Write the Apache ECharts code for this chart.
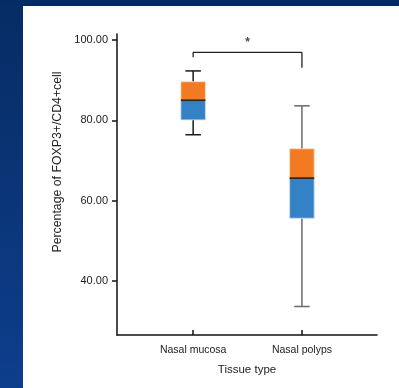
<!DOCTYPE html>
<html>
<head>
<meta charset="utf-8">
<script src="https://cdn.jsdelivr.net/npm/echarts@6/dist/echarts.min.js"></script>
<style>
html,body{margin:0;padding:0;width:399px;height:388px;overflow:hidden;}
body{background:linear-gradient(180deg,#062c64 0%,#0a3475 45%,#0d3e8d 100%);}
#top{position:absolute;left:0;top:0;width:399px;height:6px;background:#032c65;}
#panel{position:absolute;left:23px;top:6px;width:376px;height:382px;background:#fff;}
#chart{position:absolute;left:0;top:0;width:399px;height:388px;}
</style>
</head>
<body>
<div id="top"></div>
<div id="panel"></div>
<div id="chart"></div>
<script>
// Data
const categories = ['Nasal mucosa', 'Nasal polyps'];
const whiskerLow = [76.4, 33.6];
const q1 = [80.1, 55.6];
const median = [85.0, 65.6];
const q3 = [89.6, 72.9];
const whiskerHigh = [92.3, 83.6];
const yTicks = [40, 60, 80, 100];
// significance bracket: [category index, value]
const bracket = [[1, 95.7], [1, 96.9], [2, 96.9], [2, 93.1]];
const sigLabel = '*';

const whiskerColors = ['#1a1a1a', '#6a6a6a'];
const FONT = "'Liberation Sans', Arial, sans-serif";

const boxData = categories.map((c, i) => [i + 1, whiskerLow[i], q1[i], median[i], q3[i], whiskerHigh[i]]);

const chart = echarts.init(document.getElementById('chart'), null, {renderer: 'canvas'});
chart.setOption({
  backgroundColor: 'transparent',
  animation: false,
  grid: {left: 117, right: 22, top: 34, bottom: 53, containLabel: false},
  xAxis: {
    type: 'value', min: 0.3, max: 2.69,
    name: 'Tissue type', nameLocation: 'middle', nameGap: 29,
    nameTextStyle: {fontFamily: FONT, fontSize: 11.5, color: '#222'},
    axisLine: {show: true, lineStyle: {color: '#111', width: 1.5}},
    axisTick: {show: true, inside: true, length: 5, customValues: [1, 2], lineStyle: {color: '#111', width: 1.5}},
    axisLabel: {customValues: [1, 2], margin: 10, fontFamily: FONT, fontSize: 10.5, color: '#222',
      formatter: v => categories[Math.round(v) - 1] || ''},
    splitLine: {show: false}
  },
  yAxis: {
    type: 'value', min: 26.5, max: 101.5,
    name: 'Percentage of FOXP3+/CD4+cell', nameLocation: 'middle', nameGap: 53, nameRotate: 90,
    nameTextStyle: {fontFamily: FONT, fontSize: 12.3, color: '#222', padding: [0, 0, 0, 45]},
    axisLine: {show: true, lineStyle: {color: '#111', width: 1.5}},
    axisTick: {show: true, length: 5, customValues: yTicks, lineStyle: {color: '#111', width: 1.5}},
    axisLabel: {customValues: yTicks, margin: 9, fontFamily: FONT, fontSize: 11, color: '#222',
      formatter: v => v.toFixed(2)},
    splitLine: {show: false}
  },
  series: [
    {
      type: 'custom',
      data: boxData,
      renderItem: function (params, api) {
        const i = params.dataIndex;
        const x = api.value(0);
        const pMin = api.coord([x, api.value(1)]);
        const pQ1 = api.coord([x, api.value(2)]);
        const pMed = api.coord([x, api.value(3)]);
        const pQ3 = api.coord([x, api.value(4)]);
        const pMax = api.coord([x, api.value(5)]);
        const boxW = 24.5, capW = 15.5;
        const wc = whiskerColors[i];
        const line = (x1, y1, x2, y2, color, w) => ({type: 'line', shape: {x1, y1, x2, y2}, style: {stroke: color, lineWidth: w}});
        return {type: 'group', children: [
          line(pMax[0], pMax[1], pQ3[0], pQ3[1], wc, 1.5),
          line(pQ1[0], pQ1[1], pMin[0], pMin[1], wc, 1.5),
          line(pMax[0] - capW / 2, pMax[1], pMax[0] + capW / 2, pMax[1], wc, 1.5),
          line(pMin[0] - capW / 2, pMin[1], pMin[0] + capW / 2, pMin[1], wc, 1.5),
          {type: 'rect', shape: {x: pQ3[0] - boxW / 2, y: pQ3[1], width: boxW, height: pMed[1] - pQ3[1]},
            style: {fill: '#f27a23', stroke: '#fbd9bf', lineWidth: 0.8}},
          {type: 'rect', shape: {x: pMed[0] - boxW / 2, y: pMed[1], width: boxW, height: pQ1[1] - pMed[1]},
            style: {fill: '#3581c5', stroke: '#c6dcf0', lineWidth: 0.8}},
          line(pMed[0] - boxW / 2, pMed[1], pMed[0] + boxW / 2, pMed[1], '#2a2a2a', 1.8)
        ]};
      }
    },
    {
      type: 'line',
      data: bracket,
      symbol: 'none',
      lineStyle: {color: '#222', width: 1.3},
      silent: true
    },
    {
      type: 'scatter',
      data: [[(bracket[1][0] + bracket[2][0]) / 2, bracket[1][1]]],
      symbolSize: 0,
      label: {show: true, position: 'top', distance: 4, formatter: sigLabel, fontFamily: FONT, fontSize: 12, fontWeight: 'bold', color: '#222'},
      silent: true
    }
  ]
});
</script>
</body>
</html>
